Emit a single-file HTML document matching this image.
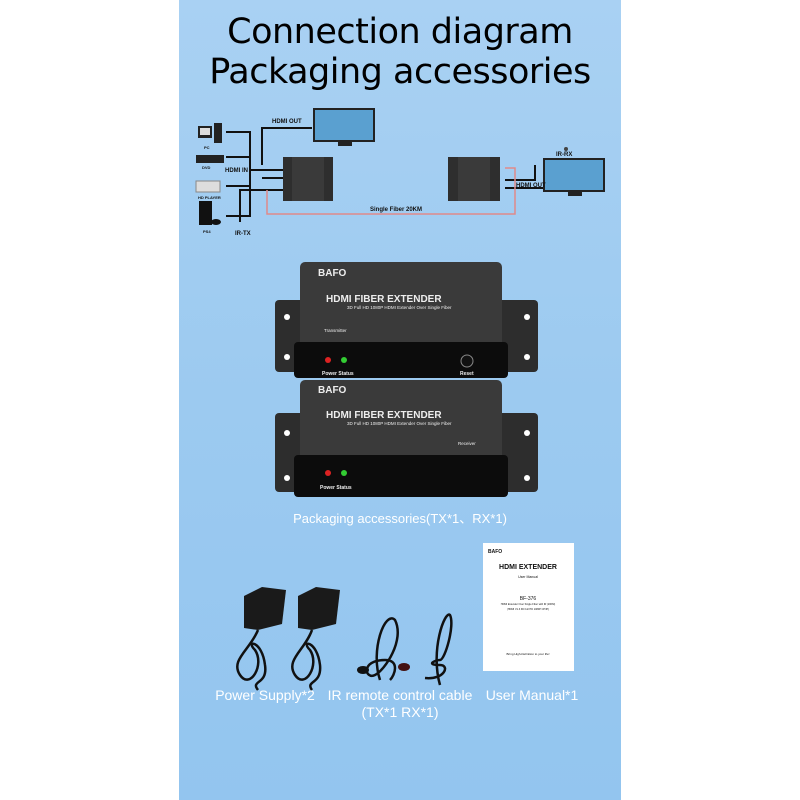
<!DOCTYPE html>
<html><head><meta charset="utf-8"><style>
body{margin:0;width:800px;height:800px;background:#fff;position:relative;overflow:hidden;font-family:"Liberation Sans",sans-serif}
.panel{position:absolute;left:179px;top:0;width:442px;height:800px;background:linear-gradient(#a9d1f3,#9ccaf0 50%,#93c5ef)}
.t{position:absolute;left:179px;width:442px;text-align:center;color:#000;font-family:"DejaVu Sans","Liberation Sans",sans-serif;font-size:35px;letter-spacing:-0.5px}
.w{position:absolute;color:#fff;font-family:"Liberation Sans","Noto Sans CJK SC",sans-serif;text-align:center;font-size:13px;white-space:nowrap}
.abs{position:absolute}
</style></head><body>
<div class="panel"></div>
<div class="t" style="top:12px">Connection diagram</div>
<div class="t" style="top:52px">Packaging accessories</div>

<svg class="abs" style="left:0;top:0" width="800" height="800">
<g fill="none" stroke="#111" stroke-width="2">
<path d="M226 132H250V216H226M226 157H250M226 186H250M250 170H290M262 165V128H312M262 178H290M240 222V190H290"/>
<path d="M505 180H535V165M505 188H545"/>
</g>
<path d="M267 190V214H515V168H505" fill="none" stroke="#e08a8a" stroke-width="1.5"/>
<rect x="198" y="126" width="14" height="12" fill="#222"/><rect x="200" y="128" width="10" height="7" fill="#ddd"/><rect x="214" y="123" width="8" height="20" fill="#222"/>
<rect x="196" y="155" width="28" height="8" fill="#222"/>
<rect x="196" y="181" width="24" height="11" fill="#ddd" stroke="#888"/>
<rect x="199" y="201" width="13" height="24" fill="#111"/><ellipse cx="216" cy="222" rx="5" ry="3" fill="#111"/>
<rect x="313" y="108" width="62" height="34" fill="#222"/><rect x="315" y="110" width="58" height="30" fill="#5aa0d0"/><rect x="338" y="142" width="14" height="4" fill="#222"/>
<rect x="543" y="158" width="62" height="34" fill="#222"/><rect x="545" y="160" width="58" height="30" fill="#5aa0d0"/><rect x="568" y="192" width="14" height="4" fill="#222"/>
<rect x="283" y="157" width="50" height="44" fill="#2e2e2e"/><rect x="292" y="157" width="32" height="44" fill="#3a3a3a"/>
<rect x="448" y="157" width="52" height="44" fill="#2e2e2e"/><rect x="458" y="157" width="32" height="44" fill="#3a3a3a"/>
<circle cx="566" cy="149" r="2" fill="#444"/>
<g font-family="Liberation Sans" font-weight="bold" font-size="6" fill="#111">
<text x="272" y="123">HDMI OUT</text><text x="225" y="172">HDMI IN</text><text x="235" y="235">IR-TX</text>
<text x="556" y="156">IR-RX</text><text x="516" y="187">HDMI OUT</text><text x="370" y="211">Single Fiber 20KM</text>
<text x="204" y="149" font-size="4">PC</text><text x="202" y="169" font-size="4">DVD</text><text x="198" y="199" font-size="4">HD PLAYER</text><text x="203" y="233" font-size="4">PS4</text>
</g>
<g>
<rect x="275" y="300" width="263" height="72" rx="4" fill="#2d2d2d"/>
<rect x="300" y="262" width="202" height="115" rx="5" fill="#3a3a3a"/>
<rect x="294" y="342" width="214" height="36" rx="4" fill="#0c0c0c"/>
<circle cx="328" cy="360" r="3" fill="#d22"/><circle cx="344" cy="360" r="3" fill="#3c3"/>
<circle cx="467" cy="361" r="6" fill="#111" stroke="#888"/>
<rect x="275" y="413" width="263" height="79" rx="4" fill="#2d2d2d"/>
<rect x="300" y="380" width="202" height="117" rx="5" fill="#3a3a3a"/>
<rect x="294" y="455" width="214" height="42" rx="4" fill="#0c0c0c"/>
<circle cx="328" cy="473" r="3" fill="#d22"/><circle cx="344" cy="473" r="3" fill="#3c3"/>
<g fill="#fff"><circle cx="287" cy="317" r="3"/><circle cx="287" cy="357" r="3"/><circle cx="527" cy="317" r="3"/><circle cx="527" cy="357" r="3"/>
<circle cx="287" cy="433" r="3"/><circle cx="287" cy="478" r="3"/><circle cx="527" cy="433" r="3"/><circle cx="527" cy="478" r="3"/></g>
<g font-family="Liberation Sans" font-weight="bold" fill="#eee">
<text x="318" y="276" font-size="10">BAFO</text><text x="318" y="393" font-size="10">BAFO</text>
<text x="326" y="302" font-size="10">HDMI FIBER EXTENDER</text><text x="326" y="418" font-size="10">HDMI FIBER EXTENDER</text>
<text x="347" y="309" font-size="4.5" font-weight="normal">3D Full HD 1080P HDMI Extender Over Single Fiber</text>
<text x="347" y="425" font-size="4.5" font-weight="normal">3D Full HD 1080P HDMI Extender Over Single Fiber</text>
<text x="324" y="332" font-size="4.5" font-weight="normal">Transmitter</text><text x="458" y="445" font-size="4.5" font-weight="normal">Receiver</text>
<text x="322" y="375" font-size="5">Power Status</text><text x="320" y="489" font-size="5">Power Status</text><text x="460" y="375" font-size="5">Reset</text>
</g>
</g>
<g fill="#1a1a1a"><path d="M244 596L262 587 286 590 282 624 258 630 244 628Z"/><path d="M298 596L316 587 340 590 336 624 312 630 298 628Z"/></g>
<g fill="none" stroke="#111" stroke-width="2.5">
<path d="M258 630C250 650 230 660 240 675 250 690 265 665 255 650 245 640 262 640 265 665 268 685 250 680 258 690"/>
<path d="M312 630C305 650 285 660 295 675 305 690 320 665 310 650 300 640 317 640 320 665 322 685 305 680 312 690"/>
<path d="M380 680C370 650 385 610 395 620 405 640 385 670 375 675 365 680 360 660 385 660 400 660 395 675 390 680"/>
<path d="M440 685C430 650 445 610 450 615 455 625 445 660 440 660 435 660 425 665 440 665 450 665 445 680 425 678"/>
</g>
<ellipse cx="363" cy="670" rx="6" ry="4" fill="#111"/><ellipse cx="404" cy="667" rx="6" ry="4" fill="#411"/>
<rect x="483" y="543" width="91" height="128" fill="#fff"/>
<g font-family="Liberation Sans" fill="#111" text-anchor="middle">
<text x="488" y="553" font-size="5" text-anchor="start" font-weight="bold">BAFO</text>
<text x="528" y="569" font-size="7" font-weight="bold">HDMI EXTENDER</text>
<text x="528" y="578" font-size="3.5">User Manual</text>
<text x="528" y="600" font-size="5">BF-376</text>
<text x="528" y="605" font-size="2.5">HDMI Extender Over Single Fiber with IR (20KM)</text>
<text x="528" y="610" font-size="2.5">(HDMI V1.3 3D Full HD 1080P CP/IP)</text>
<text x="528" y="655" font-size="3">Bring High-Definition to your life!</text>
</g>
</svg>

<div class="w" style="left:179px;width:442px;top:508px">Packaging accessories(TX*1、RX*1)</div>
<div class="w" style="left:205px;width:120px;top:687px;font-size:14px">Power Supply*2</div>
<div class="w" style="left:320px;width:160px;top:687px;font-size:14px;line-height:17px">IR remote control cable<br>(TX*1 RX*1)</div>
<div class="w" style="left:477px;width:110px;top:687px;font-size:14px">User Manual*1</div>
</body></html>
